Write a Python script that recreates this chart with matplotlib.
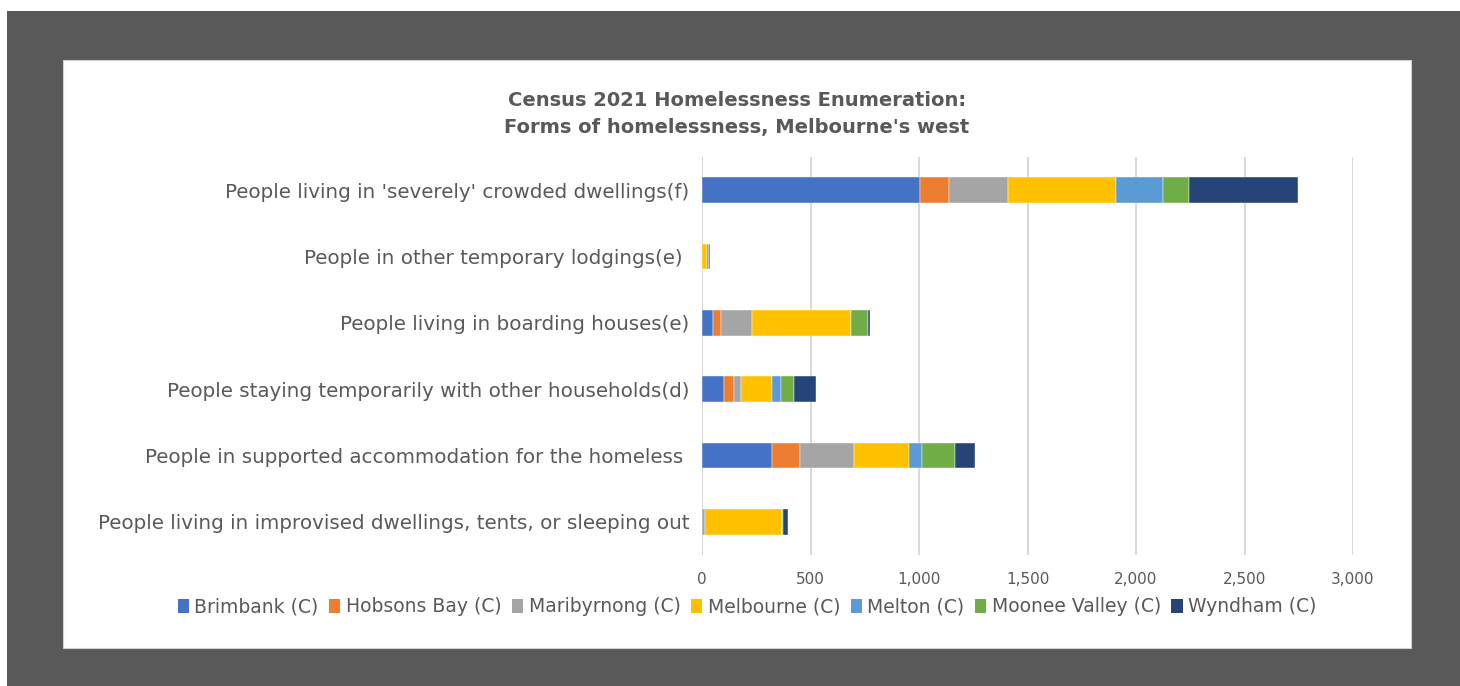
import numpy as np
import matplotlib.pyplot as plt
from matplotlib.patches import Rectangle, Patch

# Forms of homelessness (bottom to top as drawn)
categories = [
    "People living in improvised dwellings, tents, or sleeping out",
    "People in supported accommodation for the homeless ",
    "People staying temporarily with other households(d)",
    "People living in boarding houses(e)",
    "People in other temporary lodgings(e) ",
    "People living in 'severely' crowded dwellings(f)",
]

councils = ["Brimbank (C)", "Hobsons Bay (C)", "Maribyrnong (C)", "Melbourne (C)",
            "Melton (C)", "Moonee Valley (C)", "Wyndham (C)"]

brimbank = [2, 322, 103, 52, 0, 1003]
hobsons_bay = [0, 128, 43, 34, 0, 134]
maribyrnong = [14, 251, 32, 143, 1, 272]
melbourne = [354, 254, 145, 456, 24, 497]
melton = [0, 60, 42, 2, 5, 219]
moonee_valley = [2, 151, 60, 76, 0, 117]
wyndham = [25, 92, 100, 9, 7, 505]

series = [brimbank, hobsons_bay, maribyrnong, melbourne, melton, moonee_valley, wyndham]
colors = ["#4472C4", "#ED7D31", "#A5A5A5", "#FFC000", "#5B9BD5", "#70AD47", "#264478"]

text_col = "#595959"
W, H = 1460, 686

fig = plt.figure(figsize=(W / 100, H / 100), dpi=100)
fig.patch.set_facecolor("white")

# dark frame and white chart panel
fig.patches.append(Rectangle((7 / W, 0), 1, (H - 11) / H, transform=fig.transFigure,
                             facecolor="#595959", edgecolor="none", zorder=-3))
fig.patches.append(Rectangle((63 / W, 1 - 648 / H), (1411 - 63) / W, (648 - 60) / H,
                             transform=fig.transFigure, facecolor="white",
                             edgecolor="#d0d0d0", lw=0.8, zorder=-2))

ax = fig.add_axes([702 / W, 1 - 555 / H, (1353 - 702) / W, (555 - 157) / H])
ax.set_facecolor("none")

y = np.arange(len(categories))
left = np.zeros(len(categories))
for vals, col, name in zip(series, colors, councils):
    ax.barh(y, vals, left=left, height=0.39, color=col, edgecolor="white",
            linewidth=0.3, label=name, zorder=3)
    left += np.array(vals)

ax.set_xlim(0, 3000)
ax.set_ylim(-0.5, 5.5)
ax.set_xticks(np.arange(0, 3001, 500))
ax.set_xticklabels([f"{v:,}" for v in range(0, 3001, 500)])
ax.set_yticks(y)
ax.set_yticklabels(categories)
ax.grid(axis="x", color="#d9d9d9", lw=1.5, zorder=0)
ax.tick_params(axis="x", length=0, pad=12, labelsize=11, colors=text_col)
ax.tick_params(axis="y", length=0, pad=9, labelsize=14.3, colors=text_col)
for s in ax.spines.values():
    s.set_visible(False)

fig.text(737 / W, 1 - 114 / H,
         "Census 2021 Homelessness Enumeration:\nForms of homelessness, Melbourne's west",
         ha="center", va="center", fontsize=14, fontweight="bold", color=text_col,
         linespacing=1.55)

handles = [Patch(facecolor=c, edgecolor="none") for c in colors]
fig.legend(handles, councils, loc="center", bbox_to_anchor=(747 / W, 1 - 607 / H),
           ncol=7, frameon=False, fontsize=13.5, handlelength=0.6, handleheight=0.7,
           handletextpad=0.3, columnspacing=0.55, labelcolor=text_col)

fig.savefig("out.png", dpi=100)
